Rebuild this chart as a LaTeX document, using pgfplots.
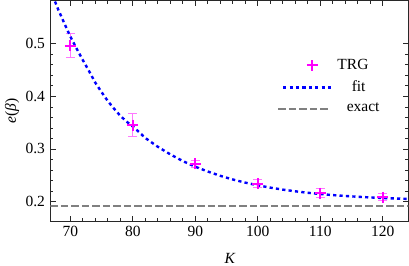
\documentclass[border=0pt]{standalone}
\usepackage{fontspec}
\setmainfont{Liberation Serif}
\usepackage{pgfplots}
\pgfplotsset{compat=1.18}
\usepackage{pgfplotstable}

\definecolor{trg}{RGB}{255,0,255}
\definecolor{trgerr}{RGB}{255,120,255}
\definecolor{fitblue}{RGB}{0,0,255}
\definecolor{exactgray}{RGB}{128,128,128}
\definecolor{framecol}{RGB}{40,40,40}

\pgfplotstableread{
K   e       err
70  0.496   0.023
80  0.345   0.0215
90  0.2714  0.006
100 0.2337  0.008
110 0.2158  0.008
120 0.2082  0.007
}\trgdata

\pgfplotstableread{
K     e
66.8  0.603
67    0.597
68    0.567
69    0.540
70    0.514
71    0.491
72    0.469
73    0.448
74    0.426
75    0.408
76    0.391
77    0.3765
78    0.363
79    0.352
80    0.3425
81    0.332
82    0.3207
84    0.3040
86    0.2895
88    0.2768
90    0.2660
92    0.2569
94    0.2487
96    0.2417
98    0.2357
100   0.2306
102   0.2262
104   0.2224
106   0.2192
108   0.2164
110   0.2140
112   0.2120
114   0.2103
116   0.2088
118   0.2075
120   0.2065
122   0.2055
124.5 0.2046
}\fitdata

\pgfplotstableread{
K     e
66.8  0.192
124.5 0.192
}\exactdata

\newcommand{\fs}{\fontsize{15.5}{18}\selectfont}

\begin{document}
\begin{tikzpicture}
\fs
\begin{axis}[
  scale only axis,
  width=358pt, height=220.7pt,
  xmin=66.8, xmax=124.1,
  ymin=0.1625, ymax=0.5825,
  xtick={70,80,...,120},
  ytick={0.2,0.3,0.4,0.5},
  minor x tick num=4,
  minor y tick num=4,
  tick align=inside,
  major tick length=5.5pt,
  minor tick length=3.2pt,
  tick style={framecol, line width=0.6pt},
  axis line style={framecol, line width=0.8pt},
  xticklabel style={font=\fs},
  yticklabel style={font=\fs},
  /pgf/number format/assume math mode=true,
  /pgf/number format/fixed,
  /pgf/number format/precision=1,
  /pgf/number format/fixed zerofill,
  xticklabel={\pgfmathprintnumber[fixed,precision=0]{\tick}},
  xlabel={\textit{K}},
  ylabel={\textit{e}(\textit{β})},
  xlabel style={at={(axis description cs:0.502,-0.169)}, anchor=center, font=\fs},
  ylabel style={at={(axis description cs:-0.107,0.5)}, anchor=center, rotate=0, font=\fs},
  legend cell align=left,
  legend style={draw=none, fill=none, at={(axis description cs:0.625,0.745)}, anchor=north west,
    column sep=0pt, row sep=9pt, nodes={inner sep=0pt, font=\fs}},
]
% error bars (drawn first)
\addplot[draw=none, mark=none, forget plot,
  error bars/.cd, y dir=both, y explicit,
  error bar style={trgerr, line width=1pt},
  error mark options={trgerr, rotate=90, mark size=4.5pt, line width=1pt}]
  table[x=K, y=e, y error=err] {\trgdata};
\addplot[only marks, mark=+, mark size=5.5pt, trg, line width=1.9pt,
  legend image code/.code={
    \path (-57pt,0pt) (0pt,0pt);
    \draw[trg, line width=1.9pt] (-24pt,-5.5pt) -- (-24pt,5.5pt) (-29.5pt,0pt) -- (-18.5pt,0pt);
  }]
  table[x=K, y=e] {\trgdata};
\addlegendentry{TRG}
\addplot[fitblue, line width=2.4pt, dash pattern=on 3.2pt off 3.2pt, no markers,
  legend image code/.code={
    \path (-57pt,0pt) (0pt,0pt);
    \draw[fitblue, line width=2.4pt, dash pattern=on 3.2pt off 3.2pt] (-53pt,0pt) -- (-2pt,0pt);
  }]
  table[x=K, y=e] {\fitdata};
\addlegendentry{\hspace{14.3pt}fit}
\addplot[exactgray, line width=2pt, dash pattern=on 7.5pt off 3pt, no markers,
  legend image code/.code={
    \path (-57pt,0pt) (0pt,0pt);
    \draw[exactgray, line width=2pt, dash pattern=on 7.5pt off 3pt] (-58pt,0pt) -- (-6pt,0pt);
  }]
  table[x=K, y=e] {\exactdata};
\addlegendentry{\hspace{9.3pt}exact}
\end{axis}
\pgfresetboundingbox
\path (current axis.south west) ++(-50.3pt,-44.3pt) coordinate (bbsw);
\path (current axis.north east) ++(0.7pt,0.4pt) coordinate (bbne);
\useasboundingbox (bbsw) rectangle (bbne);
\end{tikzpicture}
\end{document}
